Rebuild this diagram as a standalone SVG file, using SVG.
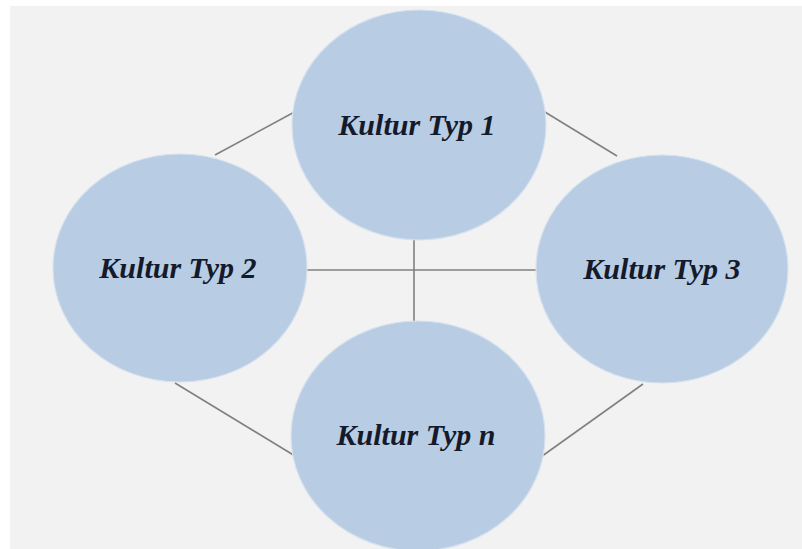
<svg xmlns="http://www.w3.org/2000/svg" width="802" height="549" viewBox="0 0 802 549">
<style>
.node ellipse{fill:#b8cce4;stroke:#d6e1ee;stroke-width:1.2}
.node text{font-family:"Liberation Serif","Times New Roman",serif;font-style:italic;font-weight:bold;font-size:30px;fill:#141a2a;text-anchor:middle}
.conn line{stroke:#808080;stroke-width:1.6}
</style>
<rect x="0" y="0" width="802" height="549" fill="#ffffff"/>
<rect x="10" y="6" width="792" height="543" fill="#f2f2f2"/>
<g id="connectors" class="conn">
<line x1="215" y1="155" x2="300" y2="109"/>
<line x1="540" y1="109" x2="617" y2="156"/>
<line x1="300" y1="270" x2="540" y2="270"/>
<line x1="414" y1="232" x2="414" y2="328"/>
<line x1="175" y1="383" x2="300" y2="459"/>
<line x1="643" y1="384" x2="538" y2="459"/>
</g>
<g id="node-typ1" class="node">
<ellipse cx="419" cy="125" rx="127" ry="115"/>
<text x="417" y="135">Kultur Typ 1</text>
</g>
<g id="node-typ2" class="node">
<ellipse cx="180" cy="268" rx="127" ry="114"/>
<text x="178" y="278">Kultur Typ 2</text>
</g>
<g id="node-typ3" class="node">
<ellipse cx="662" cy="269" rx="126" ry="114"/>
<text x="662" y="279">Kultur Typ 3</text>
</g>
<g id="node-typn" class="node">
<ellipse cx="418" cy="436" rx="127" ry="115"/>
<text x="416" y="445">Kultur Typ n</text>
</g>
</svg>
